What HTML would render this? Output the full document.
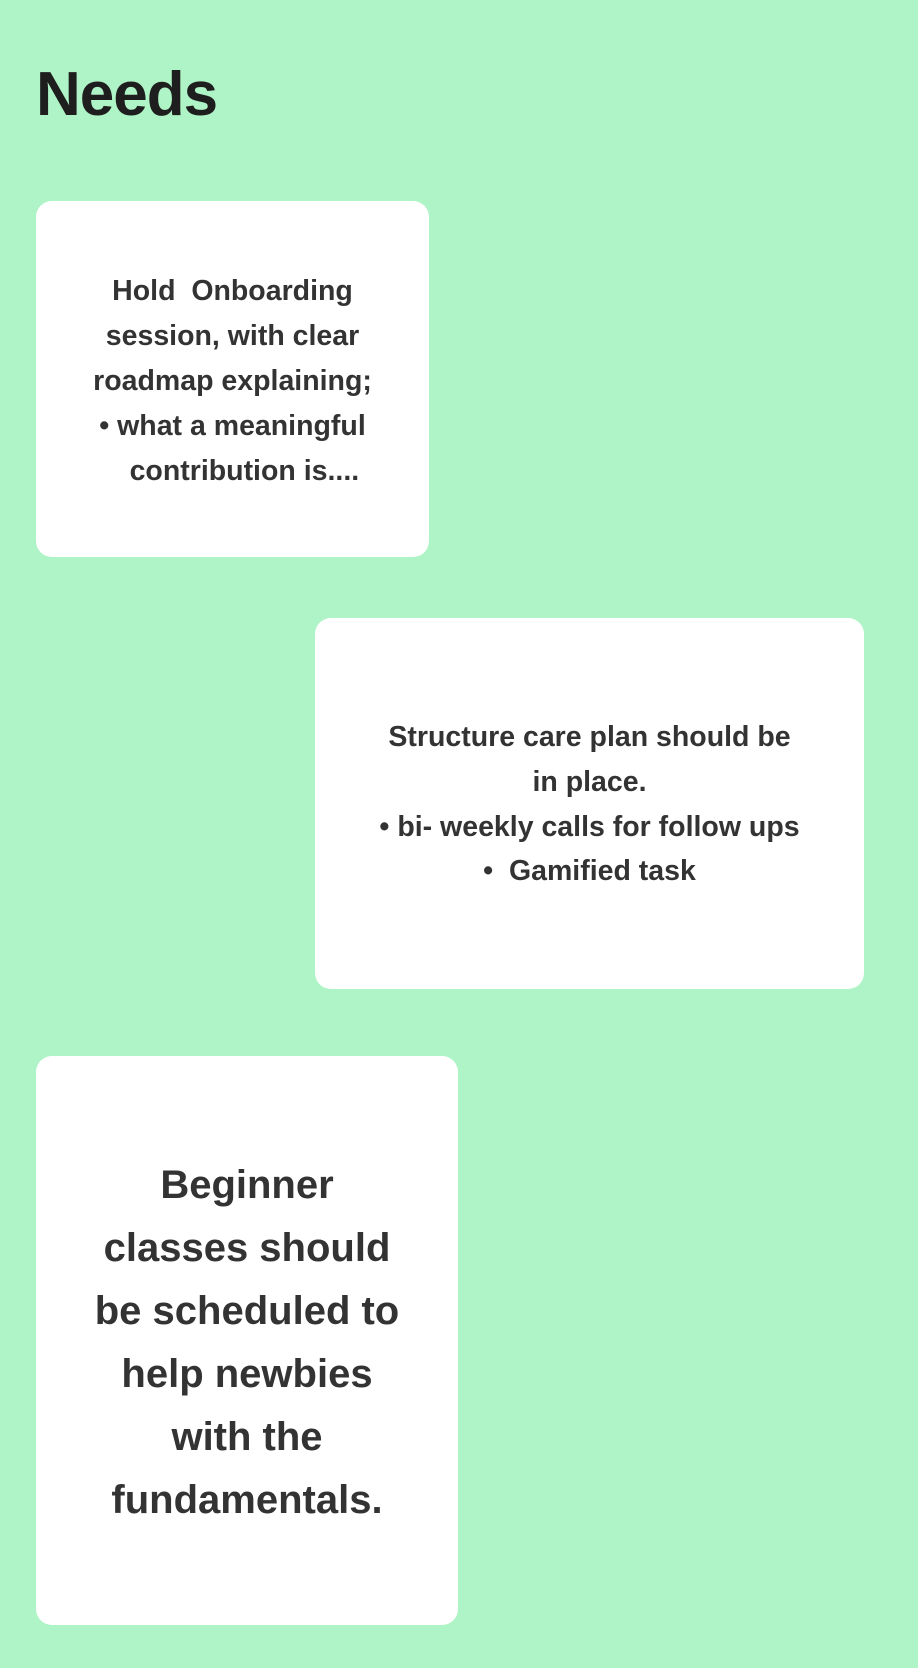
<!DOCTYPE html>
<html><head><meta charset="utf-8"><style>
html,body{margin:0;padding:0}
body{width:918px;height:1668px;background:#aff4c6;position:relative;overflow:hidden;font-family:"Liberation Sans",Arial,sans-serif;color:#333}
h1{position:absolute;left:36px;top:59px;margin:0;font-size:62px;font-weight:bold;color:#1e1e1e;letter-spacing:-1px;line-height:72px}
.card{position:absolute;background:#fff;border-radius:16px;display:flex;align-items:center;justify-content:center;text-align:center;font-weight:bold;box-sizing:border-box}
.c1{left:36px;top:201px;width:393px;height:356px;font-size:28.5px;line-height:45px;padding-top:4px}
.c2{left:315px;top:618px;width:549px;height:371px;font-size:28.5px;line-height:44.7px;padding-top:2px}
.c3{left:36px;top:1056px;width:422px;height:569px;font-size:40px;line-height:63px;padding-top:4px}
</style></head><body>
<h1>Needs</h1>
<div class="card c1"><div>Hold&nbsp; Onboarding<br>session, with clear<br>roadmap explaining;<br>• what a meaningful<br>&nbsp;&nbsp;&nbsp;contribution is....</div></div>
<div class="card c2"><div>Structure care plan should be<br>in place.<br>• bi- weekly calls for follow ups<br>•&nbsp; Gamified task</div></div>
<div class="card c3"><div>Beginner<br>classes should<br>be scheduled to<br>help newbies<br>with the<br>fundamentals.</div></div>
</body></html>
